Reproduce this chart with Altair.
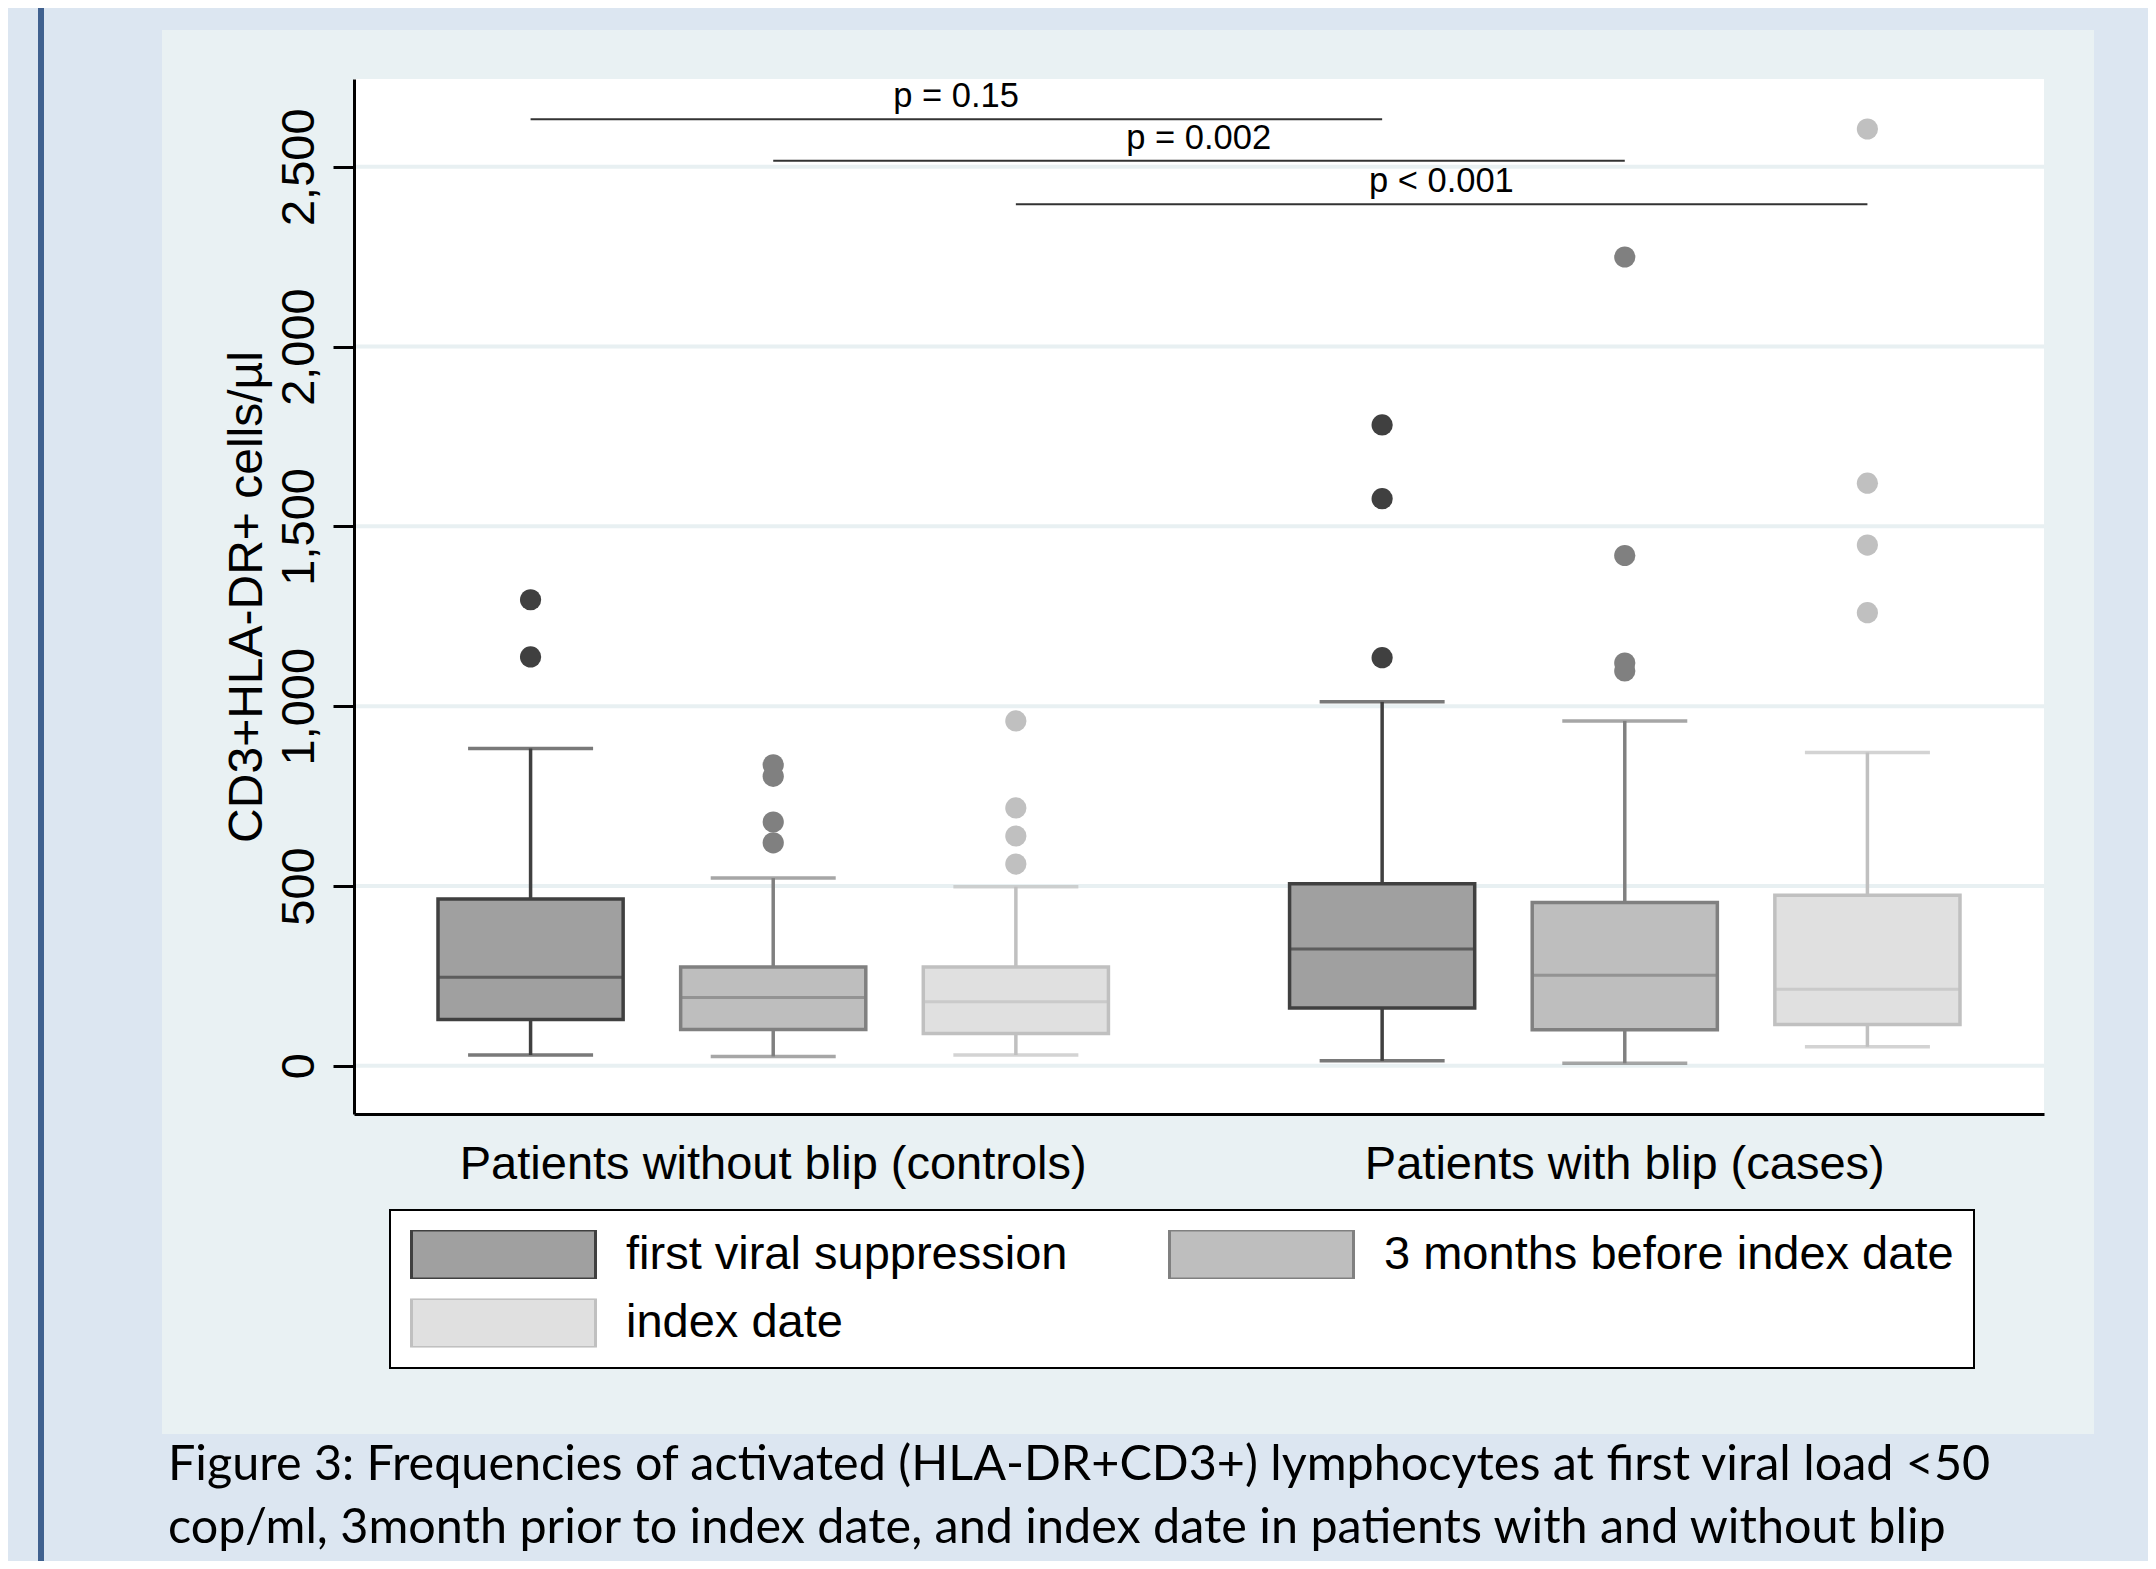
import altair as alt
import pandas as pd

# ---------------- data ----------------
groups = ["Patients without blip (controls)", "Patients with blip (cases)"]
series = ["first viral suppression", "3 months before index date", "index date"]

box_group = [groups[0]] * 3 + [groups[1]] * 3
box_series = series * 2
lower_whisker = [30, 26, 30, 14, 7, 53]
q1 = [129, 101, 90, 161, 100, 115]
median = [246, 190, 178, 325, 252, 213]
q3 = [464, 275, 275, 506, 454, 474]
upper_whisker = [882, 522, 498, 1012, 959, 871]

outliers = [
    [1296, 1137],
    [837, 805, 678, 620],
    [959, 717, 639, 561],
    [1782, 1577, 1135],
    [2249, 1419, 1120, 1098],
    [2605, 1620, 1448, 1260],
]

p_labels = ["p = 0.15", "p = 0.002", "p < 0.001"]
p_series = series
p_level = [2632, 2517, 2396]

y_ticks = [0, 500, 1000, 1500, 2000, 2500]
y_title = "CD3+HLA-DR+ cells/µl"
caption = [
    "Figure 3: Frequencies of activated (HLA-DR+CD3+) lymphocytes at first viral load <50",
    "cop/ml, 3month prior to index date, and index date in patients with and without blip",
]

fill_colors = ["#A0A0A0", "#BEBEBE", "#E0E0E0"]
line_colors = ["#404040", "#808080", "#C0C0C0"]

# ---------------- tables ----------------
boxes = pd.DataFrame({
    "group": box_group, "series": box_series,
    "lw": lower_whisker, "q1": q1, "med": median, "q3": q3, "uw": upper_whisker,
})
out_rows = []
for g, s, vals in zip(box_group, box_series, outliers):
    for v in vals:
        out_rows.append({"group": g, "series": s, "value": v})
outs = pd.DataFrame(out_rows)

pline_rows = []
for i, (s, lvl) in enumerate(zip(p_series, p_level)):
    for g in groups:
        pline_rows.append({"line": i, "group": g, "series": s, "value": lvl})
plines = pd.DataFrame(pline_rows)
ptext = pd.DataFrame({"group": [groups[0]] * 3, "series": p_series, "value": p_level, "label": p_labels})
grid = pd.DataFrame({"tick": y_ticks})
one = pd.DataFrame({"k": [0]})

# ---------------- geometry ----------------
W, H = 1690, 1035
FONT = "Liberation Sans"

x_scale = alt.Scale(domain=groups, paddingInner=0.16, paddingOuter=0.0723)
xo_scale = alt.Scale(domain=series, paddingInner=0.237, paddingOuter=0.0925)
y_scale = alt.Scale(domain=[-134, 2744], nice=False, zero=False)

x_axis = alt.Axis(title=None, labelAngle=0, labelFontSize=47, labelFont=FONT, labelColor="black",
                  labelBaseline="alphabetic", labelPadding=64, labelLimit=2000, ticks=False, tickSize=0,
                  domainColor="black", domainWidth=3, grid=False, zindex=1, labelOverlap=False)
y_axis = alt.Axis(values=y_ticks, format=",d", title=y_title, titleFont=FONT, titleFontSize=48,
                  titleFontWeight="normal", titleColor="black", titleAngle=270, titleX=-93, titleY=H / 2,
                  titleAlign="center", titleBaseline="alphabetic",
                  labelAngle=270, labelAlign="center", labelBaseline="alphabetic", labelPadding=20,
                  labelFontSize=47, labelFont=FONT, labelColor="black",
                  tickSize=21, tickWidth=3, tickColor="black", domainColor="black", domainWidth=3,
                  grid=False, zindex=1, labelOverlap=False)

X = alt.X("group:N", scale=x_scale, sort=groups, axis=x_axis)
XO = alt.XOffset("series:N", scale=xo_scale, sort=series)


def Y(field):
    return alt.Y(f"{field}:Q", scale=y_scale, axis=y_axis)


# colour scale for whiskers / medians / outliers (listed in reverse so it stays separate from the box legend)
line_color = alt.Color("series:N", scale=alt.Scale(domain=series[::-1], range=line_colors[::-1]), legend=None)

legend = alt.Legend(title=None, orient="none", legendX=36, legendY=1131, columns=2,
                    symbolType="M-1,-0.266H1V0.266H-1Z", symbolSize=184 * 184, symbolStrokeWidth=3,
                    clipHeight=49,
                    labelFont=FONT, labelFontSize=47, labelColor="black", labelOffset=29, labelLimit=2000,
                    columnPadding=100, rowPadding=19.5, padding=20, fillColor="white", strokeColor="black",
                    direction="horizontal", zindex=2)

# ---------------- layers ----------------
panel = alt.Chart(one).mark_rect(fill="#E9F1F3").encode(
    x=alt.value(-192), x2=alt.value(1740), y=alt.value(-49), y2=alt.value(1355))
side_line = alt.Chart(one).mark_rect(fill="#40618F").encode(
    x=alt.value(-316), x2=alt.value(-310), y=alt.value(-80), y2=alt.value(1490))
plot_bg = alt.Chart(one).mark_rect(fill="white").encode(
    x=alt.value(0), x2=alt.value(W), y=alt.value(0), y2=alt.value(H))

grid_layer = alt.Chart(grid).mark_rule(color="#E8F0F2", strokeWidth=4).encode(y=Y("tick"))

p_line_layer = alt.Chart(plines).mark_line(color="#333333", strokeWidth=2).encode(
    x=X, xOffset=XO, y=Y("value"), detail="line:N")
p_text_layer = alt.Chart(ptext).mark_text(font=FONT, fontSize=34.5, dx=425.5, dy=-12, align="center",
                                          baseline="alphabetic", color="black").encode(
    x=X, xOffset=XO, y=Y("value"), text="label:N")

whisk_low = alt.Chart(boxes).mark_rule(strokeWidth=3.5).encode(
    x=X, xOffset=XO, y=Y("lw"), y2="q1:Q", color=line_color)
whisk_up = alt.Chart(boxes).mark_rule(strokeWidth=3.5).encode(
    x=X, xOffset=XO, y=Y("q3"), y2="uw:Q", color=line_color)

box_layer = alt.Chart(boxes).mark_bar(strokeWidth=3.5).encode(
    x=X, xOffset=XO, y=Y("q1"), y2="q3:Q",
    fill=alt.Fill("series:N", scale=alt.Scale(domain=series, range=fill_colors), sort=series, legend=legend),
    stroke=alt.Stroke("series:N", scale=alt.Scale(domain=series, range=line_colors), sort=series, legend=legend),
)
med_layer = alt.Chart(boxes).mark_tick(size=186, thickness=3).encode(
    x=X, xOffset=XO, y=Y("med"), color=line_color)
cap_low = alt.Chart(boxes).mark_tick(size=125, thickness=3.5).encode(
    x=X, xOffset=XO, y=Y("lw"), color=line_color)
cap_up = alt.Chart(boxes).mark_tick(size=125, thickness=3.5).encode(
    x=X, xOffset=XO, y=Y("uw"), color=line_color)

out_layer = alt.Chart(outs).mark_circle(size=450, opacity=1).encode(
    x=X, xOffset=XO, y=Y("value"), color=line_color)

caption_layer = alt.Chart(one).mark_text(font="Lato", fontSize=48.5, align="left", baseline="alphabetic",
                                         lineHeight=63, color="black").encode(
    x=alt.value(-186), y=alt.value(1401), text=alt.value(caption))

chart = alt.layer(
    panel, side_line, plot_bg, grid_layer, p_line_layer, p_text_layer,
    whisk_low, whisk_up, box_layer, med_layer, cap_low, cap_up, out_layer, caption_layer,
).properties(
    width=W, height=H,
    background="#DCE6F1",
    padding={"left": 346, "top": 71, "right": 104, "bottom": 447},
    autosize=alt.AutoSizeParams(type="none"),
).configure_view(stroke=None).configure_legend(strokeWidth=2)

chart.save("out.html", embed_options={"renderer": "svg", "actions": False})
